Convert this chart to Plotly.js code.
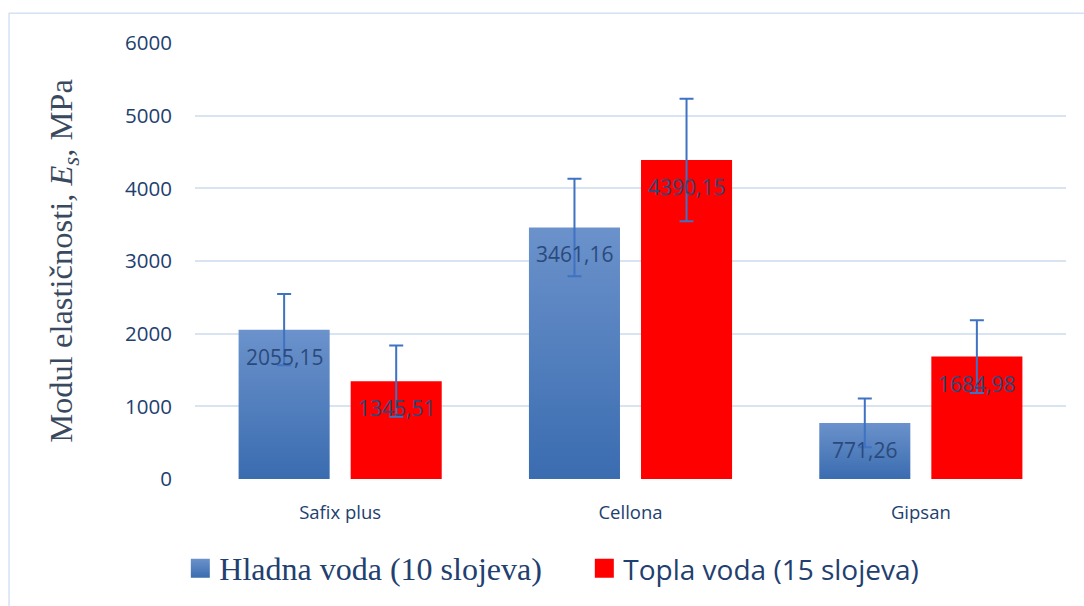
<!DOCTYPE html>
<html>
<head>
<meta charset="utf-8">
<script src="https://cdn.plot.ly/plotly-3.0.1.min.js"></script>
<style>
  html, body { margin: 0; padding: 0; background: #ffffff; }
  #chart { width: 1084px; height: 606px; }
</style>
</head>
<body>
<div id="chart"></div>
<script>
const categories = ["Safix plus", "Cellona", "Gipsan"];
const seriesNames = ["Hladna voda (10 slojeva)", "Topla voda (15 slojeva)"];
const coldValues = [2055.15, 3461.16, 771.26];
const coldErrors = [490, 670, 335];
const warmValues = [1345.51, 4390.15, 1684.98];
const warmErrors = [490, 843, 500];
const coldLabels = ["2055,15", "3461,16", "771,26"];
const warmLabels = ["1345,51", "4390,15", "1684,98"];
const yTicks = [0, 1000, 2000, 3000, 4000, 5000, 6000];

const errStyle = { type: "data", visible: true, color: "#3f72c2", thickness: 2, width: 7 };

const traces = [
  {
    type: "bar", x: categories, y: coldValues,
    name: "<span style=\"font-family:'Liberation Serif', 'Times New Roman', serif; font-size:32px\">" + seriesNames[0] + "</span>",
    marker: { color: "#4f7fc0", line: { width: 0 } },
    error_y: Object.assign({ array: coldErrors }, errStyle),
    hoverinfo: "none"
  },
  {
    type: "bar", x: categories, y: warmValues,
    name: "<span style=\"font-family:'Open Sans', sans-serif; font-size:28px\">" + seriesNames[1] + "</span>",
    marker: { color: "#ff0000", line: { width: 0 } },
    error_y: Object.assign({ array: warmErrors }, errStyle),
    hoverinfo: "none"
  }
];

const annotations = [];
categories.forEach((c, i) => {
  annotations.push({ x: c, y: coldValues[i], text: coldLabels[i], xref: "x", yref: "y",
    showarrow: false, xshift: -56, yshift: -27, yanchor: "middle",
    font: { family: "Open Sans, sans-serif", size: 21, color: "#2b4a7c" } });
  annotations.push({ x: c, y: warmValues[i], text: warmLabels[i], xref: "x", yref: "y",
    showarrow: false, xshift: 56, yshift: -27, yanchor: "middle",
    font: { family: "Open Sans, sans-serif", size: 21, color: "#2b4a7c" } });
});

const layout = {
  width: 1084, height: 606,
  margin: { l: 195, r: 18, t: 43, b: 125 },
  paper_bgcolor: "#ffffff", plot_bgcolor: "#ffffff",
  barmode: "group", bargap: 0.228, bargroupgap: 0.1875,
  showlegend: true,
  legend: {
    orientation: "h", x: -0.018, xanchor: "left", y: -0.205, yanchor: "middle",
    entrywidth: 359, entrywidthmode: "pixels",
    font: { size: 29, color: "#22406f" }, bgcolor: "rgba(0,0,0,0)"
  },
  xaxis: {
    type: "category", showgrid: false, zeroline: false, showline: false,
    ticks: "", ticklabelstandoff: 20,
    tickfont: { family: "Open Sans, sans-serif", size: 18.5, color: "#22406f" }
  },
  yaxis: {
    range: [0, 6000], tickvals: yTicks, ticktext: yTicks.map(String),
    showgrid: true, gridcolor: "#d9e4f3", gridwidth: 2,
    zeroline: false, showline: false, ticks: "", ticklabelstandoff: 22,
    tickfont: { family: "Open Sans, sans-serif", size: 20.5, color: "#22406f" },
    title: {
      text: "Modul elastičnosti, <i>E</i><sub><i>s</i></sub>, MPa",
      font: { family: "Liberation Serif, Times New Roman, serif", size: 32.5, color: "#3a4a5e" },
      standoff: 42
    }
  },
  annotations: annotations,
  shapes: [{
    type: "rect", xref: "paper", yref: "paper",
    x0: -0.2135, x1: 1.05, y0: -0.30, y1: 1.068,
    line: { color: "#d5e2f3", width: 1.5 }, fillcolor: "rgba(0,0,0,0)", layer: "below"
  }]
};

Plotly.newPlot("chart", traces, layout, { staticPlot: true, displayModeBar: false }).then(gd => {
  const svg = gd.querySelector("svg.main-svg");
  const ns = "http://www.w3.org/2000/svg";
  let defs = svg.querySelector("defs");
  if (!defs) { defs = document.createElementNS(ns, "defs"); svg.insertBefore(defs, svg.firstChild); }
  const g = document.createElementNS(ns, "linearGradient");
  g.setAttribute("id", "blueGrad");
  g.setAttribute("x1", "0"); g.setAttribute("y1", "0"); g.setAttribute("x2", "0"); g.setAttribute("y2", "1");
  [["0", "#6b92cb"], ["1", "#3a6cb0"]].forEach(([o, c]) => {
    const s = document.createElementNS(ns, "stop");
    s.setAttribute("offset", o); s.setAttribute("stop-color", c); g.appendChild(s);
  });
  defs.appendChild(g);
  const barTraces = gd.querySelectorAll(".barlayer .trace");
  if (barTraces[0]) barTraces[0].querySelectorAll("path").forEach(p => { p.style.fill = "url(#blueGrad)"; });
  const legendPts = gd.querySelectorAll(".legend .traces");
  legendPts.forEach((t, i) => {
    t.querySelectorAll(".legendpoints path").forEach(p => {
      p.setAttribute("d", "M30.5,9.5H11.5V-9.5H30.5Z");
      p.removeAttribute("transform");
      if (i === 0) p.style.fill = "url(#blueGrad)";
    });
  });
});
</script>
</body>
</html>
